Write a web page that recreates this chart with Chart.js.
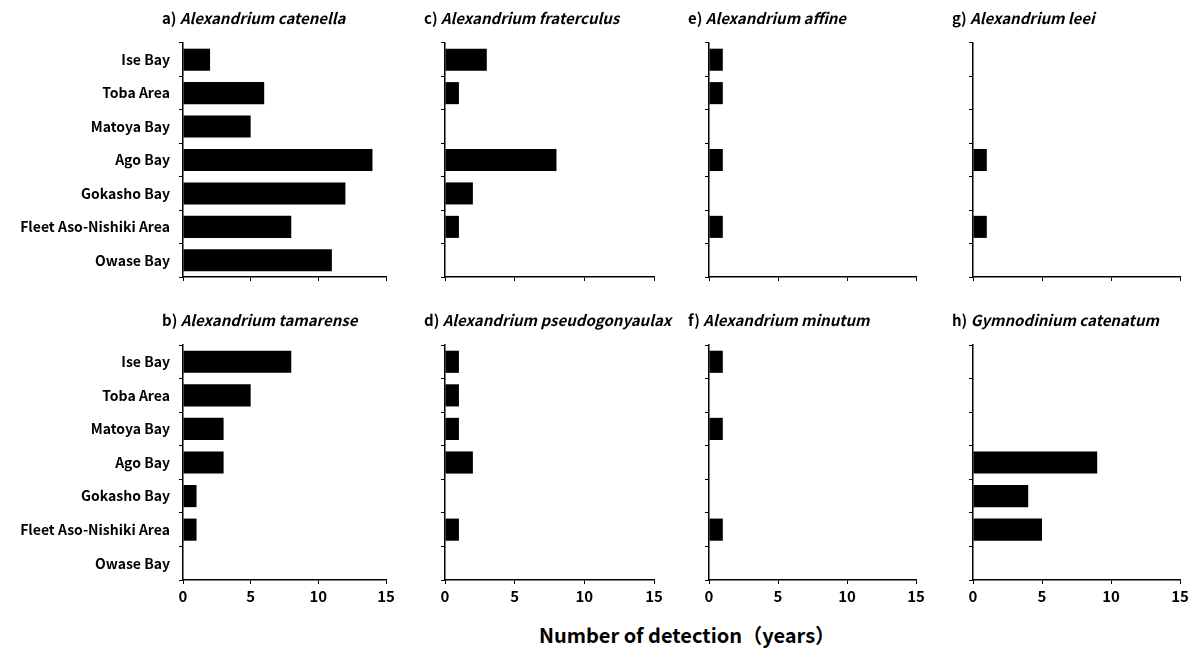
<!DOCTYPE html>
<html>
<head>
<meta charset="utf-8">
<script src="https://cdn.jsdelivr.net/npm/chart.js@4"></script>
<style>
  body { margin: 0; background: #fff; }
  #wrap { position: relative; width: 1194px; height: 657px; overflow: hidden; }
  #wrap canvas { position: absolute; }
  #xtitle { position: absolute; left: 437px; width: 500px; top: 620px; text-align: center;
    font: bold 20px "Noto Sans CJK JP"; color: #000; }
</style>
</head>
<body>
<div id="wrap">
  <div id="xtitle">Number of detection（years）</div>
</div>
<script>
// sites (top to bottom)
const sites = ["Ise Bay", "Toba Area", "Matoya Bay", "Ago Bay", "Gokasho Bay", "Fleet Aso-Nishiki Area", "Owase Bay"];
const xTicks = [0, 5, 10, 15];

// years detected per site
const catenella = [2, 6, 5, 14, 12, 8, 11];
const tamarense = [8, 5, 3, 3, 1, 1, 0];
const fraterculus = [3, 1, 0, 8, 2, 1, 0];
const pseudogonyaulax = [1, 1, 1, 2, 0, 1, 0];
const affine = [1, 1, 0, 1, 0, 1, 0];
const minutum = [1, 0, 1, 0, 0, 1, 0];
const leei = [0, 0, 0, 1, 0, 1, 0];
const gymnoCatenatum = [0, 0, 0, 9, 4, 5, 0];

// panel layout (plot area edges in page pixels)
const colX = [[183, 386], [445, 654], [709, 916], [973, 1180]];
const rowY = [[43, 277], [345, 580]];

const panels = [
  { letter: "a", species: "Alexandrium catenella", data: catenella, col: 0, row: 0 },
  { letter: "b", species: "Alexandrium tamarense", data: tamarense, col: 0, row: 1 },
  { letter: "c", species: "Alexandrium fraterculus", data: fraterculus, col: 1, row: 0 },
  { letter: "d", species: "Alexandrium pseudogonyaulax", data: pseudogonyaulax, col: 1, row: 1 },
  { letter: "e", species: "Alexandrium affine", data: affine, col: 2, row: 0 },
  { letter: "f", species: "Alexandrium minutum", data: minutum, col: 2, row: 1 },
  { letter: "g", species: "Alexandrium leei", data: leei, col: 3, row: 0 },
  { letter: "h", species: "Gymnodinium catenatum", data: gymnoCatenatum, col: 3, row: 1 }
];

const FONT = '"Noto Sans CJK JP"';

// title with upright letter and italic species name
const panelTitle = {
  id: "panelTitle",
  afterDraw(chart, args, opts) {
    const ctx = chart.ctx;
    const x = chart.chartArea.left - 21;
    const y = chart.chartArea.top - 25;
    ctx.save();
    ctx.fillStyle = "#000";
    ctx.textBaseline = "middle";
    ctx.font = "bold 15px " + FONT;
    const pre = opts.letter + ") ";
    ctx.fillText(pre, x, y);
    const w = ctx.measureText(pre).width;
    ctx.font = "italic bold 15px " + FONT;
    ctx.fillText(opts.species, x + w, y);
    ctx.restore();
  }
};

const wrap = document.getElementById("wrap");
const padTop = 40, xh = 30;

panels.forEach(p => {
  const [left, right] = colX[p.col];
  const [top, bottom] = rowY[p.row];
  const yw = p.col === 0 ? left : 30;
  const padRight = p.col === 3 ? 12 : 40;
  const canvas = document.createElement("canvas");
  canvas.width = right - left + yw + padRight;
  canvas.height = bottom - top + padTop + xh;
  canvas.style.left = (left - yw) + "px";
  canvas.style.top = (top - padTop) + "px";
  wrap.appendChild(canvas);

  new Chart(canvas, {
    type: "bar",
    data: {
      labels: sites,
      datasets: [{
        data: p.data,
        backgroundColor: "#000",
        borderWidth: 0,
        barPercentage: 0.66,
        categoryPercentage: 1
      }]
    },
    options: {
      indexAxis: "y",
      responsive: false,
      animation: false,
      layout: { padding: { top: padTop, right: padRight, left: 0, bottom: 0 } },
      plugins: {
        legend: { display: false },
        tooltip: { enabled: false },
        panelTitle: { letter: p.letter, species: p.species }
      },
      scales: {
        y: {
          type: "category",
          border: { display: true, color: "#000", width: 1.5 },
          grid: { drawOnChartArea: false, drawTicks: true, tickLength: 4, color: "#000", lineWidth: 1 },
          ticks: {
            display: p.col === 0,
            color: "#000",
            padding: 9,
            font: { family: FONT, size: 14, weight: "bold" }
          },
          afterFit(scale) { scale.width = yw; }
        },
        x: {
          type: "linear",
          min: xTicks[0],
          max: xTicks[xTicks.length - 1],
          afterBuildTicks(scale) { scale.ticks = xTicks.map(v => ({ value: v })); },
          border: { display: true, color: "#000", width: 1.5 },
          grid: { drawOnChartArea: false, drawTicks: true, tickLength: 4, color: "#000", lineWidth: 1 },
          ticks: {
            display: p.row === 1,
            color: "#000",
            padding: 3,
            font: { family: FONT, size: 15, weight: "bold" }
          },
          afterFit(scale) { scale.height = xh; }
        }
      }
    },
    plugins: [panelTitle]
  });
});
</script>
</body>
</html>
